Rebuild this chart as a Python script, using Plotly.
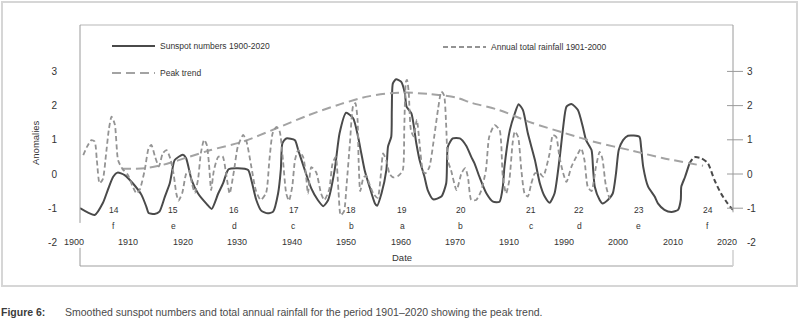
import plotly.graph_objects as go

# ---------------- data ----------------
sun_years = [1900.0, 1902.7, 1904.2, 1905.1, 1906.1, 1906.9, 1908.2, 1909.7, 1911.3, 1912.2,
             1912.6, 1913.7, 1914.6, 1915.6, 1916.5, 1916.8, 1917.4, 1918.9, 1919.5, 1920.5,
             1921.7, 1923.3, 1924.2, 1925.4, 1926.3, 1926.9, 1927.3, 1929.0, 1930.9, 1931.5,
             1932.4, 1933.3, 1934.5, 1935.5, 1936.4, 1936.9, 1937.2, 1937.9, 1939.5, 1940.1,
             1941.3, 1942.5, 1943.7, 1944.7, 1945.6, 1946.8, 1947.7, 1948.9, 1950.2, 1951.1,
             1951.7, 1952.3, 1953.2, 1954.2, 1954.6, 1955.4, 1956.3, 1956.6, 1957.2, 1957.3,
             1957.5, 1958.1, 1959.0, 1959.7, 1960.0, 1960.9, 1961.8, 1962.4, 1963.3, 1963.9,
             1964.9, 1966.4, 1967.3, 1967.6, 1968.5, 1969.8, 1971.0, 1971.9, 1972.5, 1973.4,
             1974.7, 1975.9, 1977.1, 1977.7, 1978.0, 1979.0, 1979.9, 1980.6, 1981.4, 1982.3,
             1983.6, 1984.5, 1985.4, 1986.3, 1987.2, 1988.1, 1988.8, 1989.4, 1990.3, 1991.5,
             1992.4, 1993.0, 1994.0, 1994.3, 1994.6, 1995.5, 1996.0, 1997.0, 1997.9, 1998.5,
             1999.0, 1999.8, 2000.7, 2002.8, 2003.1, 2003.5, 2004.4, 2005.6, 2006.2, 2007.4,
             2008.7, 2009.9, 2010.4, 2010.5, 2011.2, 2012.0]
sun_vals = [-1.0, -1.2, -0.85, -0.47, -0.08, 0.04, -0.03, -0.27, -0.61, -0.96,
            -1.14, -1.17, -1.1, -0.66, -0.27, -0.03, 0.41, 0.56, 0.46, -0.17,
            -0.57, -0.88, -1.02, -0.57, -0.27, 0.02, 0.14, 0.17, 0.12, -0.18,
            -0.76, -1.07, -1.15, -1.1, -0.57, 0.12, 0.9, 1.04, 0.99, 0.7,
            0.12, -0.42, -0.76, -0.94, -0.76, 0.12, 1.19, 1.79, 1.63, 1.09,
            0.6, 0.12, -0.37, -0.86, -0.93, -0.57, 0.12, 0.8, 1.09, 1.87,
            2.65, 2.77, 2.7, 2.36, 1.97, 1.77, 0.9, 0.41, -0.08, -0.47,
            -0.74, -0.66, -0.27, 0.8, 1.04, 1.04, 0.82, 0.5, 0.31, -0.08,
            -0.57, -0.81, -0.81, -0.37, 0.21, 1.29, 1.77, 2.04, 1.87, 1.19,
            0.41, -0.27, -0.66, -0.84, -0.57, 0.41, 1.38, 1.97, 2.05, 1.87,
            1.38, 0.99, 0.7, 0.12, -0.37, -0.76, -0.86, -0.76, -0.57, 0.02,
            0.7, 0.99, 1.12, 1.09, 0.8, 0.21, -0.37, -0.66, -0.86, -1.05,
            -1.11, -1.05, -0.76, -0.37, -0.08, 0.31]

forecast_years = [2012.0, 2012.9, 2014.2, 2015.4, 2016.6, 2017.8, 2019.0, 2020.0]
forecast_vals = [0.31, 0.49, 0.46, 0.31, -0.18, -0.57, -0.86, -1.05]

rain_years = [1900.6, 1901.3, 1902.1, 1902.7, 1903.1, 1903.6, 1904.2, 1904.8, 1905.3, 1905.8,
              1906.4, 1907.0, 1907.8, 1908.8, 1909.7, 1910.4, 1911.0, 1911.9, 1912.6, 1913.1,
              1913.8, 1914.5, 1915.2, 1915.9, 1916.6, 1917.2, 1917.7, 1918.1, 1918.8, 1919.5,
              1920.1, 1920.6, 1921.1, 1921.7, 1922.2, 1922.8, 1923.3, 1923.7, 1924.1, 1924.6,
              1925.4, 1926.2, 1926.9, 1927.5, 1928.3, 1929.0, 1930.0, 1930.6, 1931.5, 1932.3,
              1933.2, 1934.2, 1934.8, 1935.4, 1936.1, 1936.7, 1937.3, 1937.9, 1938.4, 1939.0,
              1939.5, 1940.1, 1941.0, 1941.5, 1941.9, 1942.5, 1943.4, 1944.3, 1944.9, 1945.8,
              1946.4, 1947.0, 1947.5, 1947.9, 1948.5, 1949.0, 1949.6, 1950.2, 1950.6, 1951.0,
              1951.2, 1951.5, 1952.1, 1952.6, 1953.2, 1953.9, 1954.7, 1955.3, 1955.7, 1956.3,
              1956.9, 1957.6, 1958.5, 1959.3, 1959.6, 1959.9, 1960.1, 1960.4, 1960.8, 1961.3,
              1961.9, 1962.4, 1963.0, 1963.5, 1964.2, 1965.1, 1965.8, 1966.4, 1966.9, 1967.3,
              1967.6, 1968.2, 1969.2, 1970.1, 1970.8, 1971.3, 1971.9, 1972.8, 1973.7, 1974.6,
              1975.2, 1976.2, 1977.1, 1977.4, 1977.7, 1978.3, 1978.9, 1979.5, 1979.9, 1980.5,
              1981.1, 1981.7, 1982.3, 1982.9, 1983.6, 1984.5, 1985.1, 1986.3, 1986.9, 1987.5,
              1988.1, 1988.8, 1989.4, 1990.3, 1991.2, 1992.1, 1992.7, 1993.3, 1994.0, 1994.8,
              1995.5, 1996.0, 1996.6, 1997.3, 1997.8]
rain_vals = [0.55, 0.8, 0.99, 0.95, 0.4, -0.27, -0.15, 0.6, 1.3, 1.68,
             1.45, 0.4, 0.15, -0.03, -0.37, -0.57, -0.45, 0.12, 0.75, 0.85,
             0.5, 0.22, 0.6, 0.7, 0.45, 0.0, -0.57, -0.78, -0.55, 0.0,
             0.1, -0.3, -0.55, -0.15, 0.6, 1.0, 0.85, 0.3, -0.47, 0.1,
             0.5, 0.52, -0.05, -0.57, 0.1, 0.8, 1.14, 0.95, 0.2, -0.47,
             -0.76, -0.55, 0.4, 1.19, 1.38, 1.24, 0.4, -0.57, -0.78, -0.37,
             0.4, 0.7, 0.5, 0.0, -0.57, 0.2, 0.05, -0.57, -0.76, -0.45,
             0.3, 0.5, -0.5, -1.2, -1.1, -0.3, 0.9, 2.0, 2.07, 1.6,
             0.4, -0.5, -0.1, -0.05, -0.3, -0.57, -0.7, 0.0, 0.6, 0.4,
             0.0, -0.1, -0.05, 0.1, 1.4, 2.7, 2.75, 2.4, 1.3, 1.1,
             1.58, 0.9, 0.1, 0.02, 0.2, 1.1, 1.9, 2.41, 2.3, 1.4,
             0.4, 0.1, -0.47, 0.02, 0.17, -0.1, -0.76, -0.76, -0.5, 0.12,
             1.09, 1.43, 1.29, 0.9, -0.08, -0.57, -0.18, 0.9, 1.24, 1.09,
             0.12, -0.57, -0.66, -0.3, 0.02, 0.02, -0.08, 0.6, 1.14, 1.09,
             0.5, 0.02, -0.23, 0.21, 0.5, 0.75, 0.41, -0.37, -0.5, 0.2,
             0.65, 0.45, -0.3, -0.7, -0.78]

peak_years = [1907.7, 1912.0, 1916.0, 1920.0, 1924.0, 1930.0, 1936.0, 1942.0, 1948.0, 1953.0,
              1957.0, 1960.0, 1964.0, 1969.0, 1972.0, 1977.0, 1983.0, 1989.0, 1995.0, 2001.0,
              2007.0, 2014.5]
peak_vals = [0.15, 0.17, 0.3, 0.5, 0.7, 0.95, 1.33, 1.72, 2.05, 2.27,
             2.36, 2.38, 2.34, 2.24, 2.08, 1.87, 1.5, 1.2, 0.92, 0.7,
             0.47, 0.24]

year_ticks = [1900, 1910, 1920, 1930, 1940, 1950, 1960, 1970, 1980, 1990, 2000, 2010, 2020]
year_labels = ["1900", "1910", "1920", "1930", "1940", "1950", "1960", "1970", "1910",
               "1990", "2000", "2010", "2020"]
cycle_years = [1906.2, 1917.1, 1928.3, 1939.3, 1949.8, 1959.2, 1970.0, 1982.9, 1991.7, 2002.7, 2015.4]
cycle_numbers = ["14", "15", "16", "17", "18", "19", "20", "21", "22", "23", "24"]
cycle_letters = ["f", "e", "d", "c", "b", "a", "b", "c", "d", "e", "f"]
y_ticks = [3, 2, 1, 0, -1, -2]
right_tick_marks = [3, 2, 1, 0, -1]

# ---------------- figure ----------------
W, H = 804, 319
L, R, T, B = 80, 71, 25, 53
PW, PH = W - L - R, H - T - B
YMIN, YMAX = -2.69, 4.357
FONT = "Liberation Sans, Arial, sans-serif"
DARK = "#4a4a4a"
GREY = "#939393"
TXT = "#333333"


def px_x(px):
    return (px - L) / PW


def px_y(py):
    return (H - B - py) / PH


fig = go.Figure()
fig.add_trace(go.Scatter(
    x=sun_years, y=sun_vals, mode="lines", name="Sunspot numbers 1900-2020",
    line=dict(color=DARK, width=2, shape="spline", smoothing=0.6), legend="legend",
    hoverinfo="skip"))
fig.add_trace(go.Scatter(
    x=forecast_years, y=forecast_vals, mode="lines", showlegend=False,
    line=dict(color=DARK, width=2, dash="5px,3px", shape="spline", smoothing=0.6),
    hoverinfo="skip"))
fig.add_trace(go.Scatter(
    x=rain_years, y=rain_vals, mode="lines", name="Annual total rainfall 1901-2000",
    line=dict(color=GREY, width=1.8, dash="5px,3px", shape="spline", smoothing=0.6),
    legend="legend2", yaxis="y2", hoverinfo="skip"))
fig.add_trace(go.Scatter(
    x=peak_years, y=peak_vals, mode="lines", name="Peak trend",
    line=dict(color="#a3a3a3", width=2, dash="9px,5px", shape="spline", smoothing=0.8),
    legend="legend3", hoverinfo="skip"))

leg_common = dict(xref="paper", yref="paper", xanchor="left", yanchor="middle",
                  bgcolor="rgba(0,0,0,0)", borderwidth=0, itemwidth=43,
                  font=dict(family=FONT, size=8.5, color=TXT))

shapes = []
box_light = "#cfcfcf"
axis_grey = "#9a9a9a"
shapes.append(dict(type="rect", xref="paper", yref="paper", x0=px_x(2), x1=px_x(797),
                   y0=px_y(286), y1=px_y(2), line=dict(color="#d6d6d6", width=2)))
shapes.append(dict(type="line", xref="paper", yref="paper", x0=0, x1=1, y0=1, y1=1,
                   line=dict(color=box_light, width=1.5)))
shapes.append(dict(type="line", xref="paper", yref="paper", x0=0, x1=1, y0=0, y1=0,
                   line=dict(color=box_light, width=2)))
shapes.append(dict(type="line", xref="paper", yref="y", x0=0, x1=0, y0=YMAX, y1=-1.43,
                   line=dict(color=axis_grey, width=1)))
shapes.append(dict(type="line", xref="paper", yref="y", x0=0, x1=0, y0=-2.16, y1=YMIN,
                   line=dict(color=axis_grey, width=1)))
shapes.append(dict(type="line", xref="paper", yref="y", x0=1, x1=1, y0=YMAX, y1=-1.12,
                   line=dict(color=axis_grey, width=1)))
shapes.append(dict(type="line", xref="paper", yref="y", x0=1, x1=1, y0=-2.22, y1=YMIN,
                   line=dict(color=box_light, width=1.5)))
for v in right_tick_marks:
    shapes.append(dict(type="line", xref="paper", yref="y", x0=1 - 6 / PW, x1=1 + 10 / PW,
                       y0=v, y1=v, line=dict(color=axis_grey, width=1)))

annotations = []
for yr, lab in zip(year_ticks, year_labels):
    annotations.append(dict(x=yr, y=-2.0, xref="x", yref="y", text=lab, showarrow=False,
                            xanchor="center", yanchor="middle", xshift=-6,
                            font=dict(family=FONT, size=9, color=TXT)))
for cx, num, let in zip(cycle_years, cycle_numbers, cycle_letters):
    annotations.append(dict(x=cx, y=-1.05, xref="x", yref="y", text=num, showarrow=False,
                            xanchor="center", yanchor="middle",
                            font=dict(family=FONT, size=8.5, color=TXT)))
    annotations.append(dict(x=cx, y=-1.52, xref="x", yref="y", text=let, showarrow=False,
                            xanchor="center", yanchor="middle",
                            font=dict(family=FONT, size=8.5, color=TXT)))
annotations.append(dict(x=px_x(402), y=px_y(257), xref="paper", yref="paper", text="Date",
                        xanchor="center", yanchor="middle", showarrow=False,
                        font=dict(family=FONT, size=9.5, color=TXT)))
annotations.append(dict(x=px_x(35), y=px_y(143), xref="paper", yref="paper", text="Anomalies",
                        xanchor="center", yanchor="middle", textangle=-90, showarrow=False,
                        font=dict(family=FONT, size=9.5, color=TXT)))
annotations.append(dict(x=px_x(-1), y=px_y(312), xref="paper", yref="paper", xanchor="left",
                        yanchor="middle", text="<b>Figure 6:</b>", showarrow=False,
                        font=dict(family=FONT, size=10.5, color="#3c3c3c")))
annotations.append(dict(x=px_x(63), y=px_y(312), xref="paper", yref="paper", xanchor="left",
                        yanchor="middle",
                        text="Smoothed sunspot numbers and total annual rainfall for the period "
                             "1901\u20132020 showing the peak trend.",
                        showarrow=False, font=dict(family=FONT, size=10.5, color="#4a4a4a")))

fig.update_layout(
    width=W, height=H,
    margin=dict(l=L, r=R, t=T, b=B, pad=0, autoexpand=False),
    paper_bgcolor="white", plot_bgcolor="white",
    font=dict(family=FONT, color=TXT),
    xaxis=dict(range=[1900, 2020], showticklabels=False, ticks="", showgrid=False,
               zeroline=False, showline=False, fixedrange=True),
    yaxis=dict(range=[YMIN, YMAX], tickvals=y_ticks, ticktext=[str(v) for v in y_ticks],
               ticks="", showgrid=False, zeroline=False, showline=False,
               ticklabelstandoff=22, tickfont=dict(family=FONT, size=10, color=TXT)),
    yaxis2=dict(range=[YMIN, YMAX], overlaying="y", side="right", tickvals=y_ticks,
                ticktext=[str(v) for v in y_ticks], ticks="", showgrid=False, zeroline=False,
                showline=False, ticklabelstandoff=13,
                tickfont=dict(family=FONT, size=10, color=TXT)),
    legend=dict(x=px_x(107), y=px_y(46), **leg_common),
    legend2=dict(x=px_x(438), y=px_y(47), **leg_common),
    legend3=dict(x=px_x(107), y=px_y(73), **leg_common),
    shapes=shapes,
    annotations=annotations,
    showlegend=True,
)

fig.write_html("out.html", config={"displayModeBar": False},
               post_script="document.body.style.margin='0';document.body.style.overflow='hidden';")
